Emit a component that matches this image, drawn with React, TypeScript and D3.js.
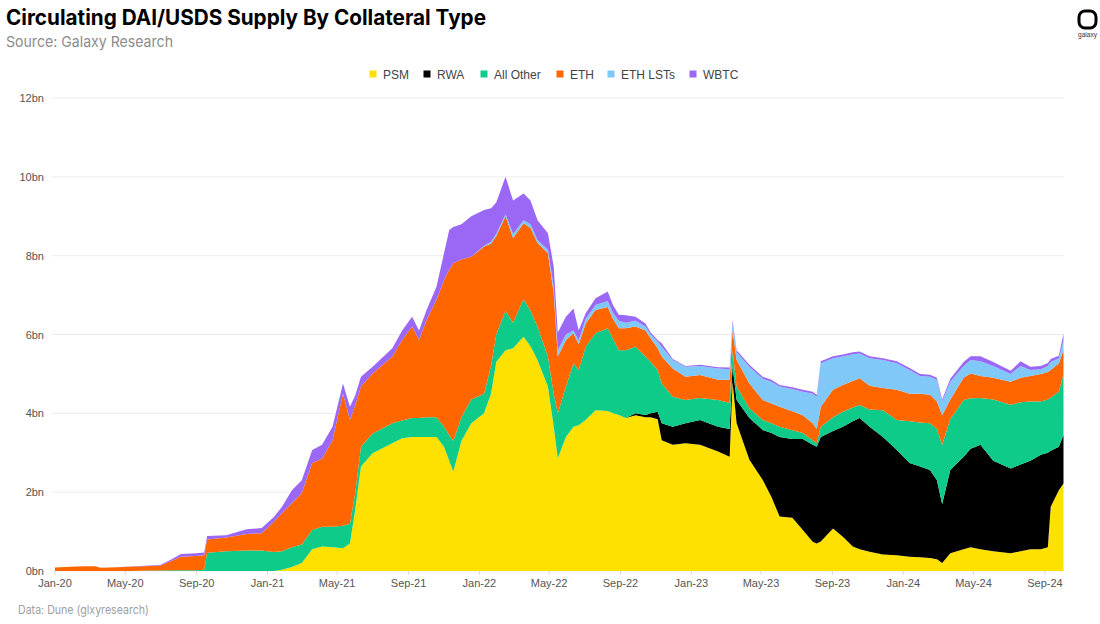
import React from 'react';
import * as d3 from 'd3';

const W = 1100;
const H = 624;

// sample dates, values in bn
const dates = [
  '2020-01-01','2020-01-27','2020-02-21','2020-03-11','2020-03-19','2020-04-05','2020-05-10','2020-06-13','2020-07-01','2020-07-20',
  '2020-08-05','2020-08-31','2020-09-14','2020-09-19','2020-10-22','2020-11-26','2020-12-22','2021-01-12','2021-01-26','2021-02-12',
  '2021-03-01','2021-03-19','2021-04-05','2021-04-23','2021-05-11','2021-05-23','2021-06-01','2021-06-11','2021-07-01','2021-08-04',
  '2021-08-21','2021-09-07','2021-09-19','2021-10-02','2021-10-19','2021-11-01','2021-11-10','2021-11-17','2021-12-01','2021-12-18',
  '2022-01-09','2022-01-21','2022-01-30','2022-02-15','2022-02-28','2022-03-18','2022-03-30','2022-04-11','2022-04-29','2022-05-09',
  '2022-05-16','2022-05-30','2022-06-12','2022-06-21','2022-07-03','2022-07-20','2022-08-10','2022-08-19','2022-08-29','2022-09-10',
  '2022-09-27','2022-10-14','2022-10-23','2022-11-04','2022-11-11','2022-11-30','2022-12-22','2023-01-16','2023-02-16','2023-03-08',
  '2023-03-13','2023-03-20','2023-04-11','2023-05-04','2023-05-19','2023-06-02','2023-06-24','2023-07-12','2023-07-29','2023-08-05',
  '2023-08-12','2023-09-02','2023-09-19','2023-10-06','2023-10-18','2023-11-04','2023-11-27','2023-12-21','2024-01-12','2024-01-30',
  '2024-02-16','2024-02-28','2024-03-08','2024-03-22','2024-04-14','2024-04-26','2024-05-13','2024-06-04','2024-07-04','2024-07-21',
  '2024-08-07','2024-08-25','2024-09-06','2024-09-11','2024-09-25','2024-10-03',
];

const psm = [
  0,0,0,0,0,0,0,0,0,0,
  0,0,0,0,0,0,0,0,0.03,0.1,
  0.2,0.55,0.62,0.6,0.58,0.7,1.55,2.65,2.99,3.24,
  3.37,3.4,3.4,3.4,3.4,3.15,2.8,2.52,3.3,3.75,
  4.0,4.5,5.3,5.6,5.65,5.94,5.7,5.35,4.68,3.66,
  2.86,3.4,3.66,3.7,3.83,4.08,4.06,4.0,3.96,3.88,
  3.95,3.9,3.9,3.85,3.32,3.2,3.24,3.2,3.03,2.9,
  4.8,3.75,2.82,2.31,1.88,1.38,1.35,1.04,0.74,0.7,
  0.75,1.08,0.87,0.62,0.55,0.49,0.42,0.4,0.36,0.35,
  0.33,0.3,0.2,0.45,0.55,0.6,0.55,0.5,0.45,0.5,
  0.55,0.55,0.6,1.63,2.05,2.22,
];

const rwa = [
  0,0,0,0,0,0,0,0,0,0,
  0,0,0,0,0,0,0,0,0,0,
  0,0,0,0,0,0,0,0,0,0,
  0,0,0,0,0,0,0,0,0,0,
  0,0,0,0,0,0,0,0,0,0,
  0,0,0,0,0,0,0,0,0,0,
  0.05,0.06,0.1,0.19,0.43,0.46,0.51,0.63,0.63,0.7,
  0.4,0.59,1.06,1.27,1.62,2.02,2.0,2.31,2.46,2.45,
  2.65,2.47,2.79,3.18,3.33,3.17,2.98,2.67,2.38,2.3,
  2.23,2.0,1.5,2.11,2.35,2.5,2.65,2.3,2.15,2.2,
  2.25,2.4,2.4,1.42,1.1,1.23,
];

const allOther = [
  0,0,0,0,0,0,0,0.01,0.01,0.02,
  0.02,0.02,0.03,0.46,0.5,0.52,0.52,0.48,0.47,0.5,
  0.47,0.49,0.5,0.52,0.57,0.5,0.42,0.5,0.5,0.51,
  0.45,0.48,0.48,0.5,0.5,0.51,0.65,0.78,0.6,0.6,
  0.5,0.7,0.7,1.0,0.65,0.96,0.9,0.85,0.76,0.84,
  1.14,1.28,1.61,1.4,1.86,1.95,2.1,1.9,1.64,1.72,
  1.69,1.48,1.3,1.06,1.01,0.76,0.59,0.56,0.68,0.66,
  0.4,0.34,0.25,0.25,0.25,0.26,0.22,0.15,0.12,0.09,
  0.26,0.35,0.38,0.35,0.33,0.44,0.68,0.76,1.06,1.12,
  1.19,1.3,1.5,1.29,1.44,1.28,1.19,1.55,1.62,1.58,
  1.5,1.35,1.35,1.35,1.4,1.55,
];

const eth = [
  0.09,0.11,0.12,0.12,0.08,0.09,0.11,0.12,0.13,0.24,
  0.34,0.36,0.37,0.34,0.35,0.42,0.44,0.77,0.97,1.12,
  1.31,1.7,1.73,2.2,3.35,2.63,2.23,1.53,1.52,1.69,
  2.04,2.32,1.98,2.47,2.98,3.72,4.19,4.51,4.0,3.62,
  3.73,3.1,2.5,2.4,2.15,1.92,2.1,2.12,2.62,2.55,
  1.44,1.18,0.76,0.65,0.59,0.59,0.54,0.5,0.56,0.56,
  0.51,0.66,0.6,0.55,0.68,0.72,0.59,0.58,0.51,0.59,
  0.5,0.67,0.63,0.51,0.5,0.51,0.48,0.45,0.43,0.36,
  0.51,0.7,0.68,0.67,0.68,0.6,0.56,0.77,0.7,0.73,
  0.72,0.7,0.75,0.5,0.56,0.63,0.56,0.55,0.58,0.62,
  0.65,0.7,0.7,0.7,0.72,0.6,
];

const ethLsts = [
  0,0,0,0,0,0,0,0,0,0,
  0,0,0,0,0,0,0,0,0,0,
  0,0,0,0,0,0,0,0,0,0,
  0,0,0,0,0,0,0,0,0,0,
  0.02,0.05,0.05,0.05,0.1,0.08,0.1,0.08,0.09,0.15,
  0.16,0.14,0.07,0.1,0.12,0.13,0.15,0.15,0.19,0.14,
  0.15,0.1,0.1,0.17,0.25,0.21,0.25,0.23,0.29,0.27,
  0.2,0.2,0.42,0.54,0.55,0.51,0.57,0.6,0.75,0.82,
  1.1,0.8,0.72,0.68,0.63,0.7,0.71,0.67,0.6,0.45,
  0.46,0.55,0.35,0.45,0.3,0.34,0.37,0.3,0.2,0.3,
  0.15,0.12,0.15,0.2,0.13,0.25,
];

const wbtc = [
  0,0,0,0,0,0,0.005,0.01,0.02,0.04,
  0.07,0.07,0.07,0.09,0.06,0.12,0.13,0.12,0.16,0.33,
  0.32,0.33,0.35,0.34,0.26,0.34,0.25,0.25,0.17,0.21,
  0.24,0.25,0.24,0.25,0.33,0.68,1.01,0.92,0.9,1.03,
  0.91,0.85,0.8,0.95,0.85,0.68,0.6,0.5,0.42,0.52,
  0.45,0.45,0.56,0.25,0.14,0.17,0.24,0.2,0.15,0.19,
  0.1,0.08,0.05,0.04,0.09,0.03,0.02,0.03,0.03,0.04,
  0.07,0.05,0.05,0.05,0.05,0.04,0.04,0.05,0.05,0.05,
  0.05,0.05,0.05,0.05,0.05,0.05,0.05,0.05,0.05,0.05,
  0.05,0.05,0.05,0.08,0.1,0.1,0.13,0.1,0.08,0.12,
  0.08,0.08,0.08,0.08,0.06,0.17,
];

const seriesNames = ['PSM', 'RWA', 'All Other', 'ETH', 'ETH LSTs', 'WBTC'];
const seriesColors = ['#ffe100', '#000000', '#0fcb8a', '#ff6600', '#7fc8f8', '#9a68f5'];
const yTicks = [0, 2, 4, 6, 8, 10, 12];
const xTickLabels = ['Jan-20','May-20','Sep-20','Jan-21','May-21','Sep-21','Jan-22','May-22','Sep-22','Jan-23','May-23','Sep-23','Jan-24','May-24','Sep-24'];

const parse = d3.timeParse('%Y-%m-%d');
const seriesData = [psm, rwa, allOther, eth, ethLsts, wbtc];
const rows = dates.map((d, i) => {
  const r: any = { date: parse(d) };
  seriesNames.forEach((k, j) => { r[k] = seriesData[j][i]; });
  return r;
});

const plotLeft = 55;
const plotBottom = 571;
const plotTop = 98;
const pxPerDay = 0.5806;

export default function App() {
  const start = parse('2020-01-01') as Date;
  const end = parse('2024-10-03') as Date;
  const days = (end.getTime() - start.getTime()) / 86400000;
  const x = d3.scaleTime().domain([start, end]).range([plotLeft, plotLeft + days * pxPerDay]);
  const y = d3.scaleLinear().domain([0, 12]).range([plotBottom, plotTop]);

  const stacked = d3.stack<any>().keys(seriesNames)(rows);
  const area = d3.area<any>()
    .x((d) => x(d.data.date))
    .y0((d) => y(d[0]))
    .y1((d) => y(d[1]))
    .curve(d3.curveLinear);

  const tickDates = d3.timeMonth.every(4)!.range(start, d3.timeDay.offset(end, 1));
  const fmt = d3.timeFormat('%b-%y');

  // legend layout
  const legendX = [373, 427, 484, 560, 611, 693];
  const font = 'Liberation Sans, Arial, sans-serif';

  return (
    <svg width={W} height={H} style={{ position: 'absolute', left: 0, top: 0, background: '#fff' }}>
      <rect width={W} height={H} fill="#fff" />
      <text x={6} y={25} fontFamily="Inter, Roboto, sans-serif" fontWeight={700} fontSize={21}
        fill="#000" textLength={480} lengthAdjust="spacingAndGlyphs">
        Circulating DAI/USDS Supply By Collateral Type
      </text>
      <text x={6} y={47} fontFamily="Inter, Roboto, sans-serif" fontSize={15} fill="#8c8c8c"
        textLength={167} lengthAdjust="spacingAndGlyphs">
        Source: Galaxy Research
      </text>

      {/* logo */}
      <rect x={1079} y={11} width={17} height={17} rx={6} fill="none" stroke="#000" strokeWidth={3} />
      <text x={1087.5} y={37} textAnchor="middle" fontFamily={font} fontSize={6.5} fill="#333">galaxy</text>

      {/* legend */}
      {seriesNames.map((n, i) => (
        <g key={n}>
          <rect x={legendX[i] - 3.5} y={70.5} width={7} height={7} fill={seriesColors[i]} />
          <text x={legendX[i] + 10} y={78.5} fontFamily={font} fontSize={12} fill="#444">{n}</text>
        </g>
      ))}

      {/* grid */}
      {yTicks.map((t) => (
        <g key={t}>
          <line x1={52} x2={1064} y1={y(t)} y2={y(t)} stroke="#ececec" strokeWidth={1} />
          <text x={44} y={y(t) + 4} textAnchor="end" fontFamily={font} fontSize={11} fill="#555">{t}bn</text>
        </g>
      ))}

      {/* areas */}
      {stacked.map((s, i) => (
        <path key={s.key} d={area(s) || ''} fill={seriesColors[i]} />
      ))}

      {/* x axis */}
      {tickDates.map((t, i) => (
        <g key={i}>
          <line x1={x(t)} x2={x(t)} y1={plotBottom} y2={plotBottom + 4} stroke="#d9d9d9" />
          <text x={x(t)} y={587} textAnchor="middle" fontFamily={font} fontSize={11} fill="#555">
            {xTickLabels[i] ?? fmt(t)}
          </text>
        </g>
      ))}

      <text x={18} y={614} fontFamily="Inter, Roboto, sans-serif" fontSize={12} fill="#a0a0a0"
        textLength={131} lengthAdjust="spacingAndGlyphs">
        Data: Dune (glxyresearch)
      </text>
    </svg>
  );
}
